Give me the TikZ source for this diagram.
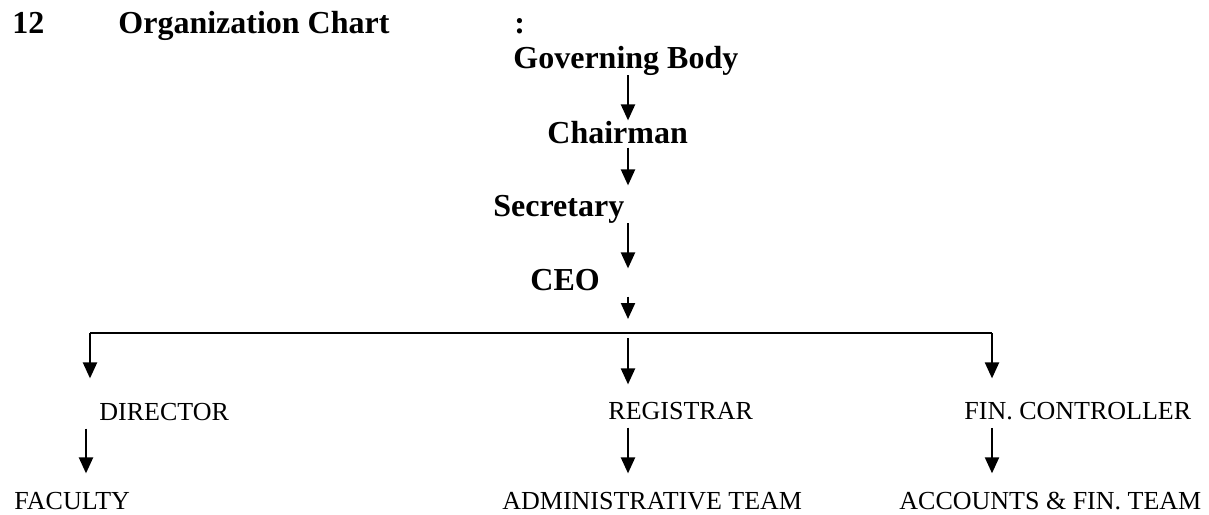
\documentclass[tikz,border=0pt]{standalone}
\usepackage{fontspec}
\setmainfont{Liberation Serif}
\usepackage{tikz}
\usetikzlibrary{arrows.meta,positioning,calc}
\tikzstyle{bigtxt}=[font=\fontsize{16}{19}\selectfont\bfseries,inner sep=0pt,anchor=base west]
\tikzstyle{smalltxt}=[font=\fontsize{13}{15}\selectfont,inner sep=0pt,anchor=base west]
\tikzstyle{dn}=[-{Triangle[length=8pt,width=7pt]},line width=1.1pt]
\tikzstyle{low}=[dn,shorten <=4pt,shorten >=9pt]

\begin{document}
\begin{tikzpicture}[x=0.5pt,y=-0.5pt]
\useasboundingbox (0,0) rectangle (1209,514);
\node[bigtxt] (num) at (12,33) {12};
\node[bigtxt] (title) at (118,33) {Organization Chart};
\node[bigtxt] (colon) at (514,33) {:};
\node[bigtxt] (gb) at (513,68) {Governing Body};
\node[bigtxt] (chair) at (547,143) {Chairman};
\node[bigtxt] (sec) at (493,216) {Secretary};
\node[bigtxt] (ceo) at (530,290) {CEO};
\node[smalltxt] (dir) at (99,420) {DIRECTOR};
\node[smalltxt] (reg) at (608,419) {REGISTRAR};
\node[smalltxt] (fin) at (964,419) {FIN. CONTROLLER};
\node[smalltxt] (fac) at (14,509) {FACULTY};
\node[smalltxt] (adm) at (502,509) {ADMINISTRATIVE TEAM};
\node[smalltxt] (acc) at (899,509) {ACCOUNTS \& FIN. TEAM};
\coordinate (spine) at (628,0);
\coordinate (colA) at (86,0);
\coordinate (busL) at (90,333);
\coordinate (busR) at (992,333);
\draw[dn] (spine |- gb.south) -- (spine |- chair.north);
\draw[dn,shorten <=2pt,shorten >=4.5pt] (spine |- chair.south) -- (spine |- sec.north);
\draw[dn] (spine |- sec.south) -- (spine |- ceo.north);
\draw[dn,shorten <=3pt,shorten >=7pt] (spine |- ceo.south) -- (spine |- busL);
\draw[line width=1.1pt] (busL) -- (busR);
\draw[dn,shorten >=12pt] (busL) -- (busL |- dir.north);
\draw[dn,shorten <=2.5pt,shorten >=8.5pt] (spine |- busL) -- (spine |- reg.north);
\draw[dn,shorten >=11.5pt] (busR) -- (busR |- fin.north);
\draw[low] (colA |- dir.south) -- (colA |- fac.north);
\draw[low] (spine |- reg.south) -- (spine |- adm.north);
\draw[low] (busR |- fin.south) -- (busR |- acc.north);
\end{tikzpicture}
\end{document}
